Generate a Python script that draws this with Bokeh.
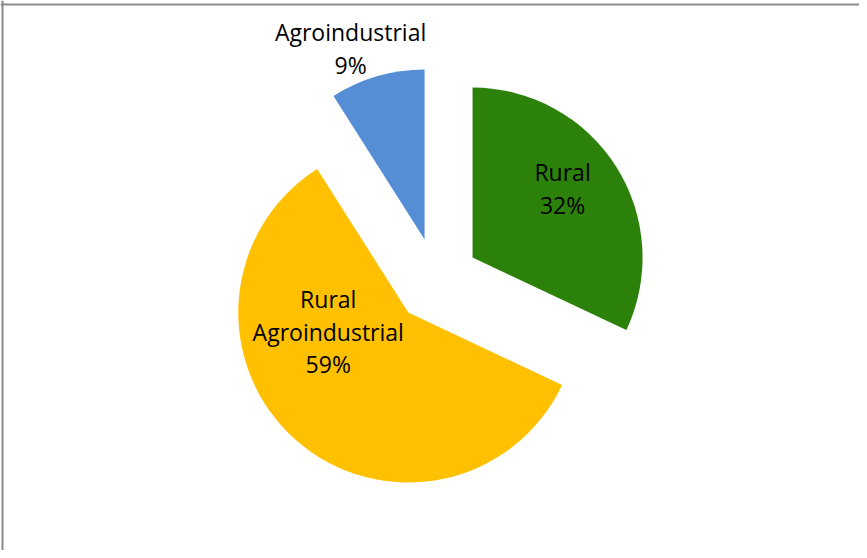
import math
from bokeh.plotting import figure
from bokeh.models import Range1d, Span, ColumnDataSource
from bokeh.core.properties import value
from bokeh.embed import file_html
from bokeh.resources import INLINE

# data
categories = ["Rural", "Rural Agroindustrial", "Agroindustrial"]
percents = [32, 59, 9]
colors = ["#2C810A", "#FFC000", "#558ED5"]

# layout (pixels, 1:1 data mapping)
W, H = 859, 550
CX, CY = 436, 270
R = 170
EXPLODE = 42.7
# label offsets from each exploded slice apex
label_dx = [90, -80, -74]
label_dy = [69, -19, 191]

p = figure(width=W, height=H, output_backend="svg", toolbar_location=None,
           x_range=Range1d(0, W), y_range=Range1d(0, H), min_border=0)
p.axis.visible = False
p.grid.visible = False
p.outline_line_color = None
p.background_fill_color = "white"
p.border_fill_color = "white"

total = float(sum(percents))
cum = 0.0
xs, ys, sa, ea, lx, ly, lt = [], [], [], [], [], [], []
for i, v in enumerate(percents):
    f0 = cum / total
    f1 = (cum + v) / total
    cum += v
    mid = math.pi / 2 - 2 * math.pi * (f0 + f1) / 2
    x = CX + EXPLODE * math.cos(mid)
    y = CY + EXPLODE * math.sin(mid)
    xs.append(x)
    ys.append(y)
    sa.append(math.pi / 2 - 2 * math.pi * f1)
    ea.append(math.pi / 2 - 2 * math.pi * f0)
    lx.append(x + label_dx[i])
    ly.append(y + label_dy[i])
    lt.append(categories[i].replace(" ", "\n") + "\n" + f"{v}%")

src = ColumnDataSource(dict(x=xs, y=ys, sa=sa, ea=ea, color=colors))
p.wedge(x="x", y="y", radius=R, start_angle="sa", end_angle="ea",
        direction="anticlock", fill_color="color", line_color=None, source=src)

lsrc = ColumnDataSource(dict(x=lx, y=ly, t=lt))
p.text(x="x", y="y", text="t", source=lsrc, text_align="center",
       text_baseline="middle", text_font=value("Open Sans"),
       text_font_size="23px", text_color="#000000", text_line_height=1.03)

# chart-area border (left and top edges visible)
p.add_layout(Span(location=2, dimension="height", line_color="#8a8a8a", line_width=2))
p.add_layout(Span(location=H - 4, dimension="width", line_color="#8a8a8a", line_width=2))

open("out.html", "w").write(file_html(p, INLINE))
